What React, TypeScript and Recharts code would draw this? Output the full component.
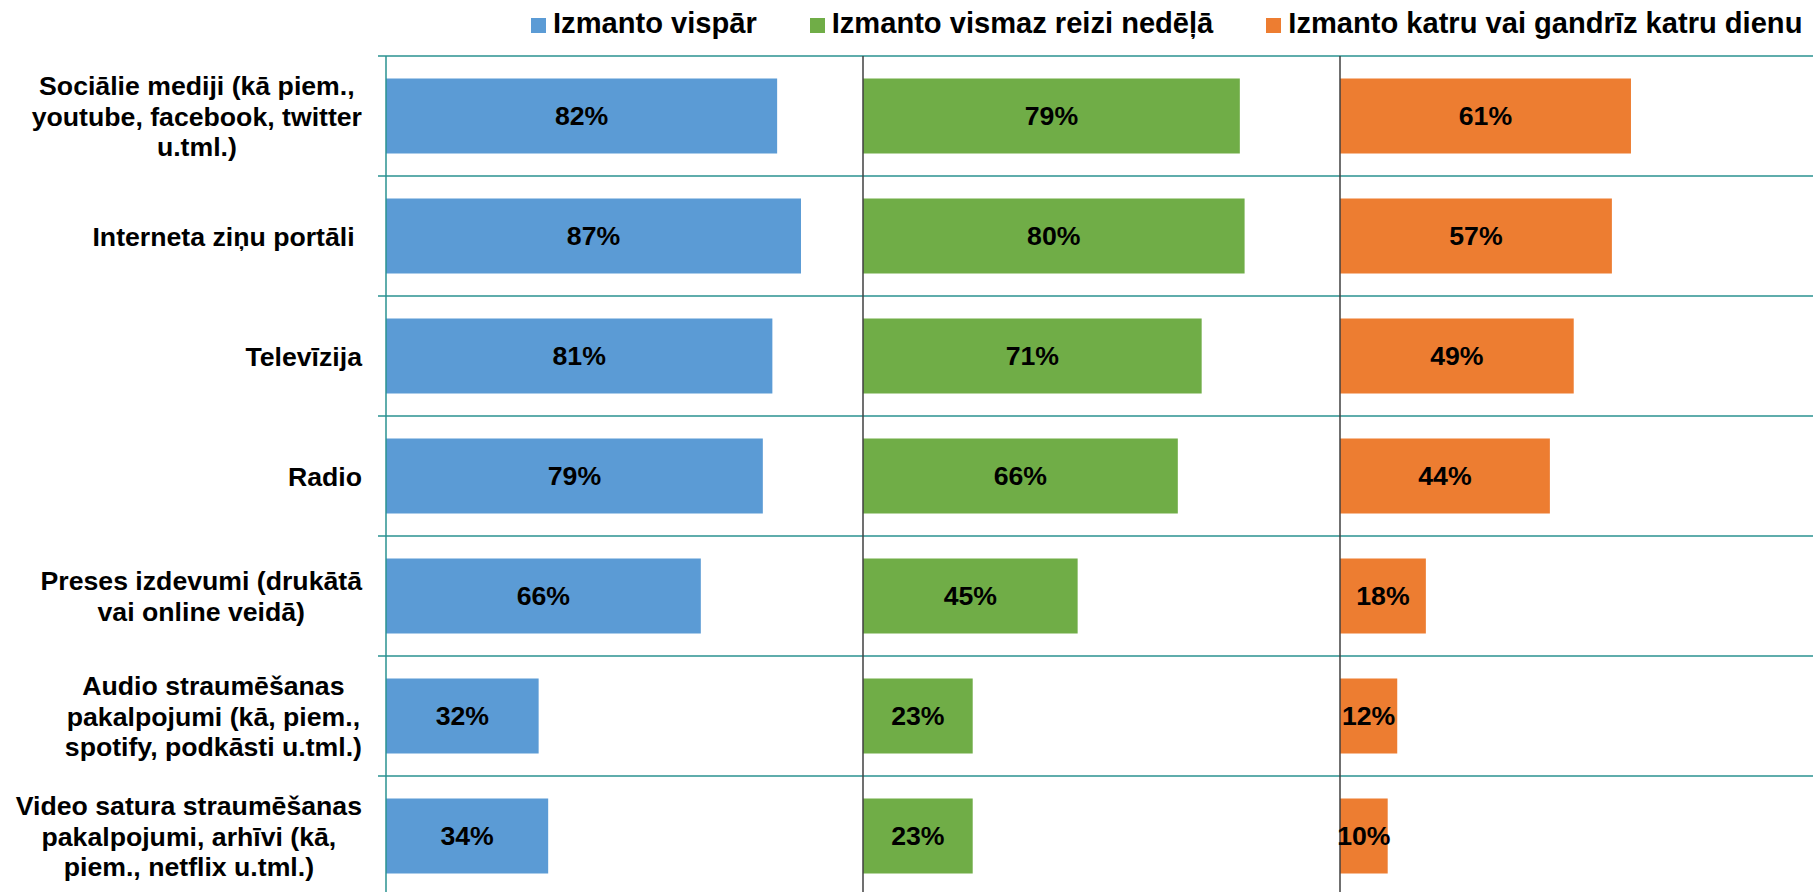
import React from 'react';
import { BarChart, Bar, XAxis, YAxis, CartesianGrid, ReferenceLine, LabelList, Legend } from 'recharts';

const categories = [
  'Sociālie mediji (kā piem., youtube, facebook, twitter u.tml.)',
  'Interneta ziņu portāli ',
  'Televīzija',
  'Radio',
  'Preses izdevumi (drukātā vai online veidā)',
  'Audio straumēšanas pakalpojumi (kā, piem., spotify, podkāsti u.tml.)',
  'Video satura straumēšanas pakalpojumi, arhīvi (kā, piem., netflix u.tml.)',
];

const categoryTickLines = [
  ['Sociālie mediji (kā piem.,', 'youtube, facebook, twitter', 'u.tml.)'],
  ['Interneta ziņu portāli '],
  ['Televīzija'],
  ['Radio'],
  ['Preses izdevumi (drukātā', 'vai online veidā)'],
  ['Audio straumēšanas', 'pakalpojumi (kā, piem.,', 'spotify, podkāsti u.tml.)'],
  ['Video satura straumēšanas', 'pakalpojumi, arhīvi (kā,', 'piem., netflix u.tml.)'],
];

const seriesNames = ['Izmanto vispār', 'Izmanto vismaz reizi nedēļā', 'Izmanto katru vai gandrīz katru dienu'];
const usesAtAll = [82, 87, 81, 79, 66, 32, 34];
const usesWeekly = [79, 80, 71, 66, 45, 23, 23];
const usesDaily = [61, 57, 49, 44, 18, 12, 10];
const panelMax = 100;

const COLORS = ['#5B9BD5', '#70AD47', '#ED7D31'];
const GRID = '#2A9290';
const SEP = '#404040';
const FONT = "'Liberation Sans', Arial, sans-serif";
const LABEL_SIZE = 26.67;
const LEGEND_SIZE = 29.1;

const data = categories.map((name, i) => ({
  name,
  a: usesAtAll[i],
  padA: panelMax - usesAtAll[i],
  b: usesWeekly[i],
  padB: panelMax - usesWeekly[i],
  c: usesDaily[i],
}));

let measureCtx: CanvasRenderingContext2D | null = null;
function textWidth(s: string): number {
  if (!measureCtx && typeof document !== 'undefined') {
    measureCtx = document.createElement('canvas').getContext('2d');
  }
  if (!measureCtx) return s.length * 14;
  measureCtx.font = `bold ${LABEL_SIZE}px ${FONT}`;
  return measureCtx.measureText(s).width;
}

const CategoryTick = (props: any) => {
  const { x, y, payload } = props;
  const idx = categories.indexOf(payload.value);
  const lines = idx >= 0 ? categoryTickLines[idx] : [String(payload.value)];
  const blockW = Math.max(...lines.map(textWidth));
  const cx = x - blockW / 2;
  const lh = 30.5;
  return (
    <g>
      {lines.map((ln, i) => (
        <text
          key={i}
          x={cx}
          y={y + (i - (lines.length - 1) / 2) * lh}
          dy="0.36em"
          textAnchor="middle"
          fontFamily={FONT}
          fontWeight="bold"
          fontSize={LABEL_SIZE}
          fill="#000"
          style={{ whiteSpace: 'pre' }}
        >
          {ln}
        </text>
      ))}
    </g>
  );
};

const LegendContent = (props: any) => {
  const items = (props.payload || [])
    .filter((p: any) => p.type !== 'none' && seriesNames.includes(p.value))
    .sort((p: any, q: any) => seriesNames.indexOf(p.value) - seriesNames.indexOf(q.value));
  return (
    <div
      style={{
        display: 'flex',
        alignItems: 'center',
        height: 51,
        paddingLeft: 531,
        gap: 53,
        fontFamily: FONT,
        fontWeight: 'bold',
        fontSize: LEGEND_SIZE,
        color: '#000',
        whiteSpace: 'nowrap',
      }}
    >
      {items.map((p: any) => (
        <div key={p.value} style={{ display: 'flex', alignItems: 'center', gap: 7 }}>
          <span style={{ width: 15, height: 15, background: p.color, display: 'inline-block' }} />
          <span style={{ lineHeight: 1, position: 'relative', top: -2 }}>{p.value}</span>
        </div>
      ))}
    </div>
  );
};

const labelProps = {
  position: 'center' as const,
  fill: '#000',
  fontFamily: FONT,
  fontWeight: 'bold',
  fontSize: LABEL_SIZE,
  formatter: (v: any) => `${v}%`,
};

export default function App() {
  return (
    <div
      style={{
        position: 'fixed',
        left: 0,
        top: 0,
        width: 1813,
        height: 892,
        overflow: 'hidden',
        background: '#fff',
      }}
    >
      <BarChart
        width={1817}
        height={896}
        data={data}
        layout="vertical"
        margin={{ top: 56, right: 0, bottom: 0, left: 0 }}
        barCategoryGap="18.75%"
      >
        <CartesianGrid
          vertical={false}
          horizontalCoordinatesGenerator={({ offset }: any) =>
            Array.from({ length: categories.length + 1 }, (_, i) => offset.top + (i * offset.height) / categories.length)
          }
          horizontal={(p: any) => (
            <line key={p.key} x1={p.x1 - 8} y1={p.y1} x2={p.x2} y2={p.y2} stroke={GRID} strokeWidth={1.5} />
          )}
        />
        <XAxis type="number" domain={[0, panelMax * 3]} hide />
        <YAxis
          type="category"
          dataKey="name"
          width={386}
          axisLine={{ stroke: GRID, strokeWidth: 1.5 }}
          tickLine={false}
          tickSize={8}
          tickMargin={16}
          tick={<CategoryTick />}
          interval={0}
        />
        <Legend
          layout="vertical"
          align="center"
          verticalAlign="middle"
          wrapperStyle={{ top: 0, left: 0, width: 1813, height: 51, margin: 0 }}
          content={<LegendContent />}
        />
        <Bar dataKey="a" name={seriesNames[0]} stackId="s" fill={COLORS[0]} isAnimationActive={false}>
          <LabelList dataKey="a" {...labelProps} />
        </Bar>
        <Bar dataKey="padA" stackId="s" fill="transparent" legendType="none" isAnimationActive={false} />
        <Bar dataKey="b" name={seriesNames[1]} stackId="s" fill={COLORS[1]} isAnimationActive={false}>
          <LabelList dataKey="b" {...labelProps} />
        </Bar>
        <Bar dataKey="padB" stackId="s" fill="transparent" legendType="none" isAnimationActive={false} />
        <Bar dataKey="c" name={seriesNames[2]} stackId="s" fill={COLORS[2]} isAnimationActive={false}>
          <LabelList dataKey="c" {...labelProps} />
        </Bar>
        <ReferenceLine x={panelMax} stroke={SEP} strokeWidth={1.5} />
        <ReferenceLine x={panelMax * 2} stroke={SEP} strokeWidth={1.5} />
      </BarChart>
    </div>
  );
}
